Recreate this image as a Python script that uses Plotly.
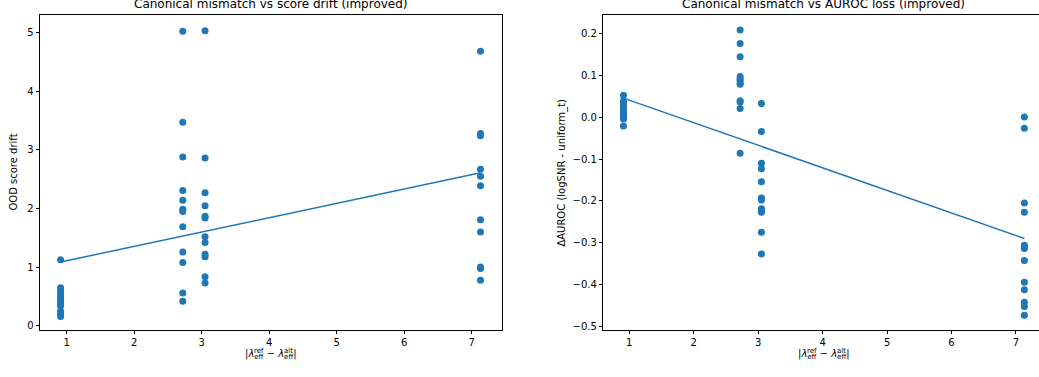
import plotly.graph_objects as go

# ---- data ----
x_groups = [0.91, 2.72, 3.05, 7.13]

drift_g1 = [1.13, 0.65, 0.60, 0.55, 0.49, 0.45, 0.41, 0.37, 0.34, 0.25, 0.20, 0.16]
drift_g2 = [5.02, 3.47, 2.88, 2.31, 2.14, 1.99, 1.95, 1.69, 1.26, 1.08, 0.56, 0.42]
drift_g3 = [5.03, 2.86, 2.27, 2.05, 1.87, 1.84, 1.52, 1.42, 1.22, 1.18, 0.84, 0.73]
drift_g4 = [4.68, 3.28, 3.24, 2.67, 2.55, 2.39, 1.81, 1.60, 1.005, 0.98, 0.78]

auroc_g1 = [0.053, 0.040, 0.035, 0.030, 0.025, 0.018, 0.012, 0.006, 0.002, -0.001, -0.004, -0.021]
auroc_g2 = [0.209, 0.177, 0.145, 0.098, 0.092, 0.088, 0.081, 0.079, 0.040, 0.037, 0.021, -0.086]
auroc_g3 = [0.033, -0.034, -0.110, -0.123, -0.154, -0.193, -0.198, -0.219, -0.224, -0.227, -0.275, -0.327]
auroc_g4 = [0.001, -0.026, -0.205, -0.227, -0.306, -0.310, -0.314, -0.343, -0.395, -0.413, -0.443, -0.453, -0.474]

trend_drift = [1.09, 2.61]     # fitted line values at min / max x
trend_auroc = [0.046, -0.290]

titles = ["Canonical mismatch vs score drift (improved)",
          "Canonical mismatch vs AUROC loss (improved)"]
ylabels = ["OOD score drift", "ΔAUROC (logSNR - uniform_t)"]
xlabel_base = "|<i>λ</i><sub>eff</sub> − <i>λ</i><sub>eff</sub>|"
xlabel_sups = ["ref", "alt"]

left_ticks = [0, 1, 2, 3, 4, 5]
right_ticks = [-0.5, -0.4, -0.3, -0.2, -0.1, 0.0, 0.1, 0.2]
x_ticks = [1, 2, 3, 4, 5, 6, 7]


def expand(groups):
    xs, ys = [], []
    for gx, vals in zip(x_groups, groups):
        xs += [gx] * len(vals)
        ys += vals
    return xs, ys


BLUE = "#1f77b4"
FONT = "DejaVu Sans"

fig = go.Figure()
dx, dy = expand([drift_g1, drift_g2, drift_g3, drift_g4])
ax_, ay_ = expand([auroc_g1, auroc_g2, auroc_g3, auroc_g4])
trend_x = [min(x_groups), max(x_groups)]

fig.add_trace(go.Scatter(x=dx, y=dy, mode="markers", xaxis="x", yaxis="y",
                         marker=dict(color=BLUE, size=7, line=dict(width=0))))
fig.add_trace(go.Scatter(x=trend_x, y=trend_drift, mode="lines", xaxis="x", yaxis="y",
                         line=dict(color=BLUE, width=1.5)))
fig.add_trace(go.Scatter(x=ax_, y=ay_, mode="markers", xaxis="x2", yaxis="y2",
                         marker=dict(color=BLUE, size=7, line=dict(width=0))))
fig.add_trace(go.Scatter(x=trend_x, y=trend_auroc, mode="lines", xaxis="x2", yaxis="y2",
                         line=dict(color=BLUE, width=1.5)))

W, H = 1039, 377
y_dom = [(H - 331.7) / H, (H - 15.3) / H]
xd1 = [40 / W, 501.7 / W]
xd2 = [603.3 / W, 1.0]

axcommon = dict(showgrid=False, zeroline=False, showline=True, linecolor="black",
                linewidth=1, ticks="outside", ticklen=3.5, tickwidth=0.8,
                tickcolor="black", tickfont=dict(family=FONT, size=10, color="black"))

fig.update_layout(
    width=W, height=H, margin=dict(l=0, r=0, t=0, b=0),
    paper_bgcolor="white", plot_bgcolor="white", showlegend=False,
    font=dict(family=FONT, size=10, color="black"),
    xaxis=dict(domain=xd1, range=[0.605, 7.444], tickvals=x_ticks, anchor="y",
               mirror=True, **axcommon),
    yaxis=dict(domain=y_dom, range=[-0.068, 5.295], tickvals=left_ticks, anchor="x",
               mirror=True, **axcommon),
    xaxis2=dict(domain=xd2, range=[0.597, 7.357], tickvals=x_ticks, anchor="y2",
                mirror=True, **axcommon),
    yaxis2=dict(domain=y_dom, range=[-0.509, 0.2445], tickvals=right_ticks, anchor="x2",
                tickformat=".1f", mirror=False, **axcommon),
)

centers = [(40 + 501.7) / 2, (603.3 + 1044.6) / 2]
ann = []
for cx, t in zip(centers, titles):
    ann.append(dict(text=t, x=cx / W, y=(H - 13) / H, xref="paper", yref="paper",
                    xanchor="center", yanchor="bottom", showarrow=False,
                    font=dict(family=FONT, size=12, color="black")))
# label width estimate (DejaVu Sans 10px): | λ eff ␣ − ␣ λ eff |
for cx in centers:
    ann.append(dict(text=xlabel_base, x=cx / W, y=(H - 348) / H, xref="paper", yref="paper",
                    xanchor="center", yanchor="top", showarrow=False,
                    font=dict(family=FONT, size=10, color="black")))
    start = cx - 26.0
    sup_pos = [start + 3.4 + 5.9 + 4.6, start + 3.4 + 5.9 + 9.2 + 3.2 + 8.4 + 3.2 + 5.9 + 4.6]
    for sx, st in zip(sup_pos, xlabel_sups):
        ann.append(dict(text=st, x=sx / W, y=(H - 353) / H, xref="paper", yref="paper",
                        xanchor="center", yanchor="middle", showarrow=False,
                        font=dict(family=FONT, size=7, color="black")))
for px, t in [(14, ylabels[0]), (562, ylabels[1])]:
    ann.append(dict(text=t, x=px / W, y=(H - 173.5) / H, xref="paper", yref="paper",
                    xanchor="center", yanchor="middle", textangle=-90, showarrow=False,
                    font=dict(family=FONT, size=10, color="black")))
fig.update_layout(annotations=ann)

fig.write_html("out.html")
